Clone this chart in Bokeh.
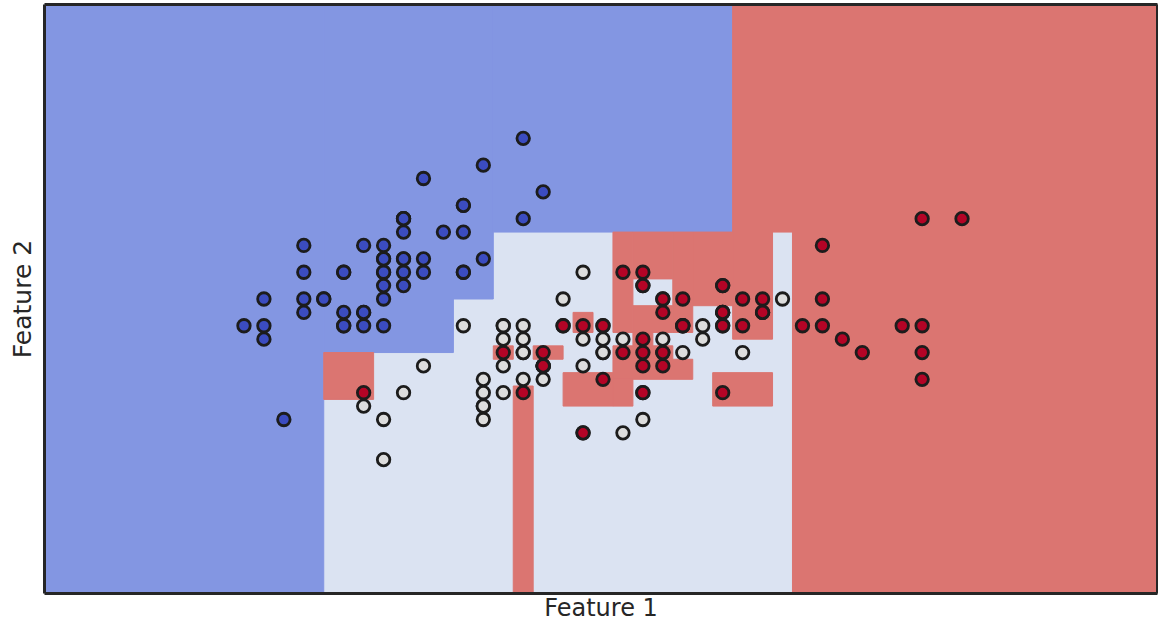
from bokeh.plotting import figure
from bokeh.models import Range1d, ColumnDataSource, FixedTicker, LinearAxis
from bokeh.embed import file_html
from bokeh.resources import INLINE

# Iris data: sepal length (Feature 1), sepal width (Feature 2), class
sepal_length = [
    5.1, 4.9, 4.7, 4.6, 5.0, 5.4, 4.6, 5.0, 4.4, 4.9, 5.4, 4.8, 4.8, 4.3, 5.8, 5.7, 5.4, 5.1, 5.7, 5.1,
    5.4, 5.1, 4.6, 5.1, 4.8, 5.0, 5.0, 5.2, 5.2, 4.7, 4.8, 5.4, 5.2, 5.5, 4.9, 5.0, 5.5, 4.9, 4.4, 5.1,
    5.0, 4.5, 4.4, 5.0, 5.1, 4.8, 5.1, 4.6, 5.3, 5.0,
    7.0, 6.4, 6.9, 5.5, 6.5, 5.7, 6.3, 4.9, 6.6, 5.2, 5.0, 5.9, 6.0, 6.1, 5.6, 6.7, 5.6, 5.8, 6.2, 5.6,
    5.9, 6.1, 6.3, 6.1, 6.4, 6.6, 6.8, 6.7, 6.0, 5.7, 5.5, 5.5, 5.8, 6.0, 5.4, 6.0, 6.7, 6.3, 5.6, 5.5,
    5.5, 6.1, 5.8, 5.0, 5.6, 5.7, 5.7, 6.2, 5.1, 5.7,
    6.3, 5.8, 7.1, 6.3, 6.5, 7.6, 4.9, 7.3, 6.7, 7.2, 6.5, 6.4, 6.8, 5.7, 5.8, 6.4, 6.5, 7.7, 7.7, 6.0,
    6.9, 5.6, 7.7, 6.3, 6.7, 7.2, 6.2, 6.1, 6.4, 7.2, 7.4, 7.9, 6.4, 6.3, 6.1, 7.7, 6.3, 6.4, 6.0, 6.9,
    6.7, 6.9, 5.8, 6.8, 6.7, 6.7, 6.3, 6.5, 6.2, 5.9,
]
sepal_width = [
    3.5, 3.0, 3.2, 3.1, 3.6, 3.9, 3.4, 3.4, 2.9, 3.1, 3.7, 3.4, 3.0, 3.0, 4.0, 4.4, 3.9, 3.5, 3.8, 3.8,
    3.4, 3.7, 3.6, 3.3, 3.4, 3.0, 3.4, 3.5, 3.4, 3.2, 3.1, 3.4, 4.1, 4.2, 3.1, 3.2, 3.5, 3.6, 3.0, 3.4,
    3.5, 2.3, 3.2, 3.5, 3.8, 3.0, 3.8, 3.2, 3.7, 3.3,
    3.2, 3.2, 3.1, 2.3, 2.8, 2.8, 3.3, 2.4, 2.9, 2.7, 2.0, 3.0, 2.2, 2.9, 2.9, 3.1, 3.0, 2.7, 2.2, 2.5,
    3.2, 2.8, 2.5, 2.8, 2.9, 3.0, 2.8, 3.0, 2.9, 2.6, 2.4, 2.4, 2.7, 2.7, 3.0, 3.4, 3.1, 2.3, 3.0, 2.5,
    2.6, 3.0, 2.6, 2.3, 2.7, 3.0, 2.9, 2.9, 2.5, 2.8,
    3.3, 2.7, 3.0, 2.9, 3.0, 3.0, 2.5, 2.9, 2.5, 3.6, 3.2, 2.7, 3.0, 2.5, 2.8, 3.2, 3.0, 3.8, 2.6, 2.2,
    3.2, 2.8, 2.8, 2.7, 3.3, 3.2, 2.8, 3.0, 2.8, 3.0, 2.8, 3.8, 2.8, 2.8, 2.6, 3.0, 3.4, 3.1, 3.0, 3.1,
    3.1, 3.1, 2.7, 3.2, 3.3, 3.0, 2.5, 3.0, 3.4, 3.0,
]
species = [0] * 50 + [1] * 50 + [2] * 50

# Decision regions (x0, x1, y0, y1, class)
region_x0 = [3.3, 4.70, 5.35, 5.55,
             6.75, 7.05, 4.70, 5.65, 5.55, 5.75, 5.95,
             6.15, 6.25, 6.25, 6.45, 6.55, 6.75,
             6.25, 6.15, 6.15, 6.15, 5.90, 6.65]
region_x1 = [4.70, 5.35, 5.55, 6.75,
             8.88, 8.88, 4.95, 5.75, 5.65, 5.90, 6.05,
             6.25, 6.45, 6.45, 6.55, 6.75, 6.95,
             6.35, 6.45, 6.55, 6.25, 6.15, 6.95]
region_y0 = [1.0, 2.80, 3.20, 3.70,
             3.70, 1.0, 2.45, 1.0, 2.75, 2.75, 2.95,
             2.95, 3.35, 2.95, 2.95, 3.15, 2.90,
             2.85, 2.75, 2.60, 2.40, 2.40, 2.40]
region_y1 = [5.4, 5.4, 5.4, 5.4,
             5.4, 3.70, 2.80, 2.55, 2.85, 2.85, 3.10,
             3.70, 3.70, 3.15, 3.70, 3.70, 3.70,
             2.95, 2.85, 2.75, 2.60, 2.65, 2.65]
region_class = [0, 0, 0, 0,
                2, 2, 2, 2, 2, 2, 2,
                2, 2, 2, 2, 2, 2,
                2, 2, 2, 2, 2, 2]

x_limits = [3.3, 8.88]
y_limits = [1.0, 5.4]

bg_colors = ["#8396e2", "#dbe3f2", "#db7571"]
pt_colors = ["#3b4cc0", "#dddddd", "#b40426"]
spine = "#262626"

p = figure(width=1158, height=624, output_backend="svg", toolbar_location=None,
           x_range=Range1d(*x_limits), y_range=Range1d(*y_limits),
           min_border_left=44, min_border_right=1, min_border_top=4, min_border_bottom=0)

# light base for the whole area (class 1 region)
p.quad(left=[x_limits[0]], right=[x_limits[1]], bottom=[y_limits[0]], top=[y_limits[1]],
       fill_color=bg_colors[1], line_color=None)

rsrc = ColumnDataSource(dict(
    left=region_x0, right=region_x1, bottom=region_y0, top=region_y1,
    color=[bg_colors[c] for c in region_class]))
p.quad(left="left", right="right", bottom="bottom", top="top", source=rsrc,
       fill_color="color", line_color="color", line_width=1.0)

psrc = ColumnDataSource(dict(x=sepal_length, y=sepal_width,
                             color=[pt_colors[c] for c in species]))
p.scatter(x="x", y="y", source=psrc, size=12.5, fill_color="color",
          line_color="#1c1c1c", line_width=2.8)

p.add_layout(LinearAxis(), "above")
p.add_layout(LinearAxis(), "right")

p.xaxis[0].axis_label = None
p.xaxis[1].axis_label = "Feature 1"
p.yaxis[0].axis_label = "Feature 2"
p.yaxis[1].axis_label = None
for ax in p.xaxis + p.yaxis:
    ax.ticker = FixedTicker(ticks=[])
    ax.axis_line_color = spine
    ax.axis_line_width = 3
    ax.major_tick_line_color = None
    ax.minor_tick_line_color = None
    ax.major_label_text_font_size = "0px"
    ax.major_label_standoff = 0
    ax.major_tick_out = 0
    ax.major_tick_in = 0
    ax.minor_tick_out = 0
    ax.axis_label_text_font = "DejaVu Sans"
    ax.axis_label_text_font_size = "25px"
    ax.axis_label_text_font_style = "normal"
    ax.axis_label_text_color = spine
    ax.axis_label_standoff = 2
p.xaxis[1].axis_label_text_font_size = "24px"
p.xaxis[1].axis_label_standoff = 0
p.yaxis[0].axis_label_standoff = 8

p.xgrid.visible = False
p.ygrid.visible = False
p.outline_line_color = None
p.background_fill_color = "white"
p.border_fill_color = "white"

open("out.html", "w").write(file_html(p, INLINE))
